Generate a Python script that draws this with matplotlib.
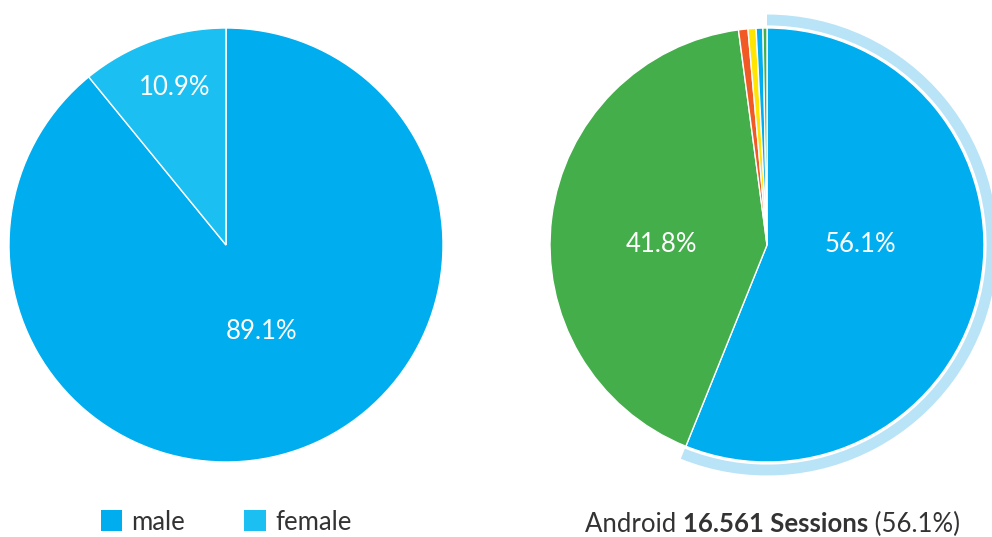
import matplotlib.pyplot as plt
from matplotlib.patches import Patch, Wedge

plt.rcParams['font.family'] = ['Lato', 'DejaVu Sans']

# gender split
gender_labels = ['male', 'female']
gender_values = [89.1, 10.9]
gender_colors = ['#00adef', '#1cbff1']

# sessions by platform
platform_labels = ['Android', 'iOS', 'Other 1', 'Other 2', 'Other 3', 'Other 4']
platform_values = [56.1, 41.8, 0.7, 0.6, 0.5, 0.3]
platform_colors = ['#00adef', '#43ae4a', '#f15a24', '#ffe500', '#00adef', '#43ae4a']
platform_sessions = '16.561'

W, H = 992, 537
R = 217  # pie radius in px
LIM = 1.12
FS = 18.5
fig = plt.figure(figsize=(W / 100, H / 100), dpi=100)


def pie_axes(cx, cy):
    size = 2 * LIM * R
    return fig.add_axes([(cx - size / 2) / W, (H - cy - size / 2) / H, size / W, size / H])


def label(ax, x, y, txt):
    ax.text(x, y, txt, color='white', fontsize=FS, ha='center', va='center')


# left pie
ax1 = pie_axes(226, 245)
wedges1, _ = ax1.pie(gender_values, colors=gender_colors, startangle=90, counterclock=False,
                     wedgeprops=dict(edgecolor='white', linewidth=1))
ax1.set_xlim(-LIM, LIM)
ax1.set_ylim(-LIM, LIM)
ax1.set_aspect('equal')
ax1.axis('off')
label(ax1, 0.166, -0.40, f'{gender_values[0]}%')
label(ax1, -0.235, 0.728, f'{gender_values[1]}%')

# right pie
ax2 = pie_axes(767, 245)
wedges2, _ = ax2.pie(platform_values, colors=platform_colors, startangle=90, counterclock=False,
                     wedgeprops=dict(edgecolor='white', linewidth=1))
ax2.set_xlim(-LIM, LIM)
ax2.set_ylim(-LIM, LIM)
ax2.set_aspect('equal')
ax2.axis('off')
# highlight ring around hovered slice
w0 = wedges2[0]
ax2.add_patch(Wedge((0, 0), 1.062, w0.theta1, w0.theta2, width=0.05,
                    facecolor='#b9e3f7', edgecolor='none', clip_on=False))
label(ax2, 0.43, 0.0, f'{platform_values[0]}%')
label(ax2, -0.488, 0.0, f'{platform_values[1]}%')

# legend under left pie
handles = [Patch(facecolor=c, edgecolor='none') for c in gender_colors]
fig.legend(handles, gender_labels, loc='center', bbox_to_anchor=(226 / W, 1 - 522 / H),
           ncol=2, frameon=False, fontsize=FS, handlelength=0.85, handleheight=0.85,
           handletextpad=0.35, columnspacing=2.3, labelcolor='#333333')

# tooltip-style caption under right pie
base = 1 - 532 / H
t1 = fig.text(585 / W, base, 'Android ', fontsize=FS, color='#333333',
              ha='left', va='baseline')
t2 = fig.text(0, 0, f'{platform_sessions} Sessions', fontsize=FS, color='#333333',
              fontweight='bold', ha='left', va='baseline')
fig.canvas.draw()
r = fig.canvas.get_renderer()
bb = t1.get_window_extent(r)
t2.set_position((bb.x1 / W, base))
fig.canvas.draw()
bb2 = t2.get_window_extent(r)
fig.text(bb2.x1 / W, base, f' ({platform_values[0]}%)', fontsize=FS, color='#333333',
         ha='left', va='baseline')

fig.savefig('out.png', dpi=100)
